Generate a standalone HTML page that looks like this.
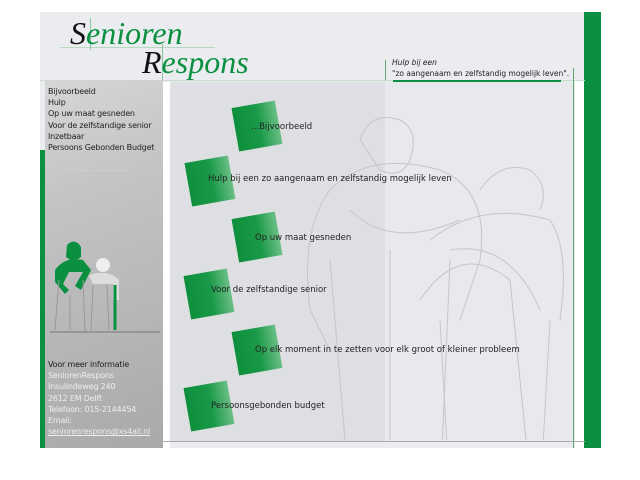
<!DOCTYPE html>
<html><head><meta charset="utf-8"><style>
body{margin:0;width:640px;height:480px;background:#fff;position:relative;overflow:hidden;font-family:"DejaVu Sans","Liberation Sans",sans-serif;}
div{position:absolute;box-sizing:border-box}
.t{font-size:8.5px;color:#222;white-space:nowrap}
.sq{width:44px;height:44px;background:linear-gradient(90deg,#0e8f3c,#1a9a48 55%,#6cbf86);transform:rotate(-10deg)}
.m{font-size:8px;color:#222;line-height:11.2px;letter-spacing:-0.2px;white-space:nowrap}
</style></head><body>
<div style="left:40px;top:12px;width:561px;height:436px;background:#ebecef"></div>
<div style="left:584px;top:12px;width:17px;height:436px;background:#0a9040"></div>
<div style="left:575px;top:12px;width:9px;height:436px;background:#fff"></div>
<div style="left:575px;top:12px;width:9px;height:68px;background:#ebecef"></div>
<!-- header -->
<div style="left:60px;top:47px;width:155px;height:1px;background:#b8d8c0"></div>
<div style="left:90px;top:18px;width:1px;height:32px;background:#8cc49c"></div>
<div style="left:162px;top:44px;width:1px;height:404px;background:#8cc49c"></div>
<div style="left:70px;top:15px;font-family:'Liberation Serif',serif;font-style:italic;font-size:32px;color:#0a9040"><span style="color:#111">S</span>enioren</div>
<div style="left:142px;top:44px;font-family:'Liberation Serif',serif;font-style:italic;font-size:32px;color:#0a9040"><span style="color:#111">R</span>espons</div>
<div style="left:40px;top:80px;width:545px;height:1px;background:#c8dccc"></div>
<div style="left:385px;top:60px;width:1px;height:20px;background:#5aa870"></div>
<div style="left:573px;top:68px;width:1px;height:380px;background:#5aa870"></div>
<div class="t" style="left:392px;top:58px;font-size:7.5px;font-style:italic">Hulp bij een</div>
<div class="t" style="left:392px;top:69px;font-size:7.5px">"zo aangenaam en zelfstandig mogelijk leven".</div>
<div style="left:393px;top:80px;width:168px;height:4px;background:#0a9040"></div>
<!-- left column -->
<div style="left:45px;top:80px;width:118px;height:368px;background:linear-gradient(160deg,#d6d6d6,#c4c4c4 30%,#a9a9a9 100%)"></div>
<div style="left:40px;top:150px;width:5px;height:298px;background:#0a9040"></div>
<div style="left:163px;top:82px;width:7px;height:366px;background:#fff"></div>
<div class="m" style="left:48px;top:86px">Bijvoorbeeld<br>Hulp<br>Op uw maat gesneden<br>Voor de zelfstandige senior<br>Inzetbaar<br>Persoons Gebonden Budget</div>
<div style="left:52px;top:170px;width:75px;height:1px;background:#ccc"></div>
<svg style="position:absolute;left:45px;top:240px" width="118" height="95">
<path d="M22 5 q8-8 14 2 v10 q-8 6-15 0z" fill="#0a9040"/>
<path d="M10 30 q10-14 28-10 l8 10 -10 20 -6-4 8-14 -14 0 -6 12 6 6 -4 4 -10-12z" fill="#0a9040"/>
<path d="M14 40 l-4 50 M38 40 l2 52 M25 55 l0 35" stroke="#999" fill="none"/>
<circle cx="58" cy="25" r="7" fill="#eee"/>
<path d="M44 35 q20-6 30 5 l0 20 -6 0 0-16 -20 0z" fill="#ddd"/>
<path d="M70 45 v45" stroke="#0a9040" stroke-width="3"/>
<path d="M48 45 l-2 45 M62 45 l2 45" stroke="#999" fill="none"/>
<path d="M5 92 h110" stroke="#777"/>
</svg>
<div class="m" style="left:48px;top:359px"><span style="color:#222">Voor meer informatie</span><br><span style="color:#eee">SeniorenRespons<br>Insulindeweg 240<br>2612 EM Delft<br>Telefoon: 015-2144454<br>Email:<br><u>seniorenrespons@xs4all.nl</u></span></div>
<!-- content -->
<div style="left:170px;top:82px;width:215px;height:359px;background:#dedfe2"></div>
<div style="left:385px;top:82px;width:188px;height:359px;background:#e8e9ec"></div>
<div style="left:160px;top:441px;width:425px;height:1px;background:#aaa"></div>
<svg style="position:absolute;left:290px;top:100px" width="285" height="340" fill="none" stroke="#c6c6c8" stroke-width="1">
<path d="M70 40 q10-30 40-20 q20 10 10 40 q-10 20-30 10z"/>
<path d="M40 90 q40-40 110-20 q50 20 40 90 l-20 60 M40 90 q-30 40 -20 120 l20 40 M60 110 q40 40 110 10"/>
<path d="M40 160 l20 240 M100 150 l0 250 M160 160 l-10 240"/>
<path d="M190 90 q20-30 50-20 q20 15 10 40"/>
<path d="M140 140 q50-40 120-20 q20 30 10 100 M160 150 q60-10 90 60 M130 200 q40-60 90-20 l20 200 M150 220 l10 180 M260 220 l-10 180"/>
</svg>
<div class="sq" style="left:235px;top:104px"></div>
<div class="sq" style="left:188px;top:159px"></div>
<div class="sq" style="left:235px;top:215px"></div>
<div class="sq" style="left:187px;top:272px"></div>
<div class="sq" style="left:235px;top:328px"></div>
<div class="sq" style="left:187px;top:384px"></div>
<div class="t" style="left:251px;top:122px">...Bijvoorbeeld</div>
<div class="t" style="left:208px;top:174px">Hulp bij een zo aangenaam en zelfstandig mogelijk leven</div>
<div class="t" style="left:255px;top:233px">Op uw maat gesneden</div>
<div class="t" style="left:211px;top:285px">Voor de zelfstandige senior</div>
<div class="t" style="left:255px;top:345px">Op elk moment in te zetten voor elk groot of kleiner probleem</div>
<div class="t" style="left:211px;top:401px">Persoonsgebonden budget</div>
</body></html>
